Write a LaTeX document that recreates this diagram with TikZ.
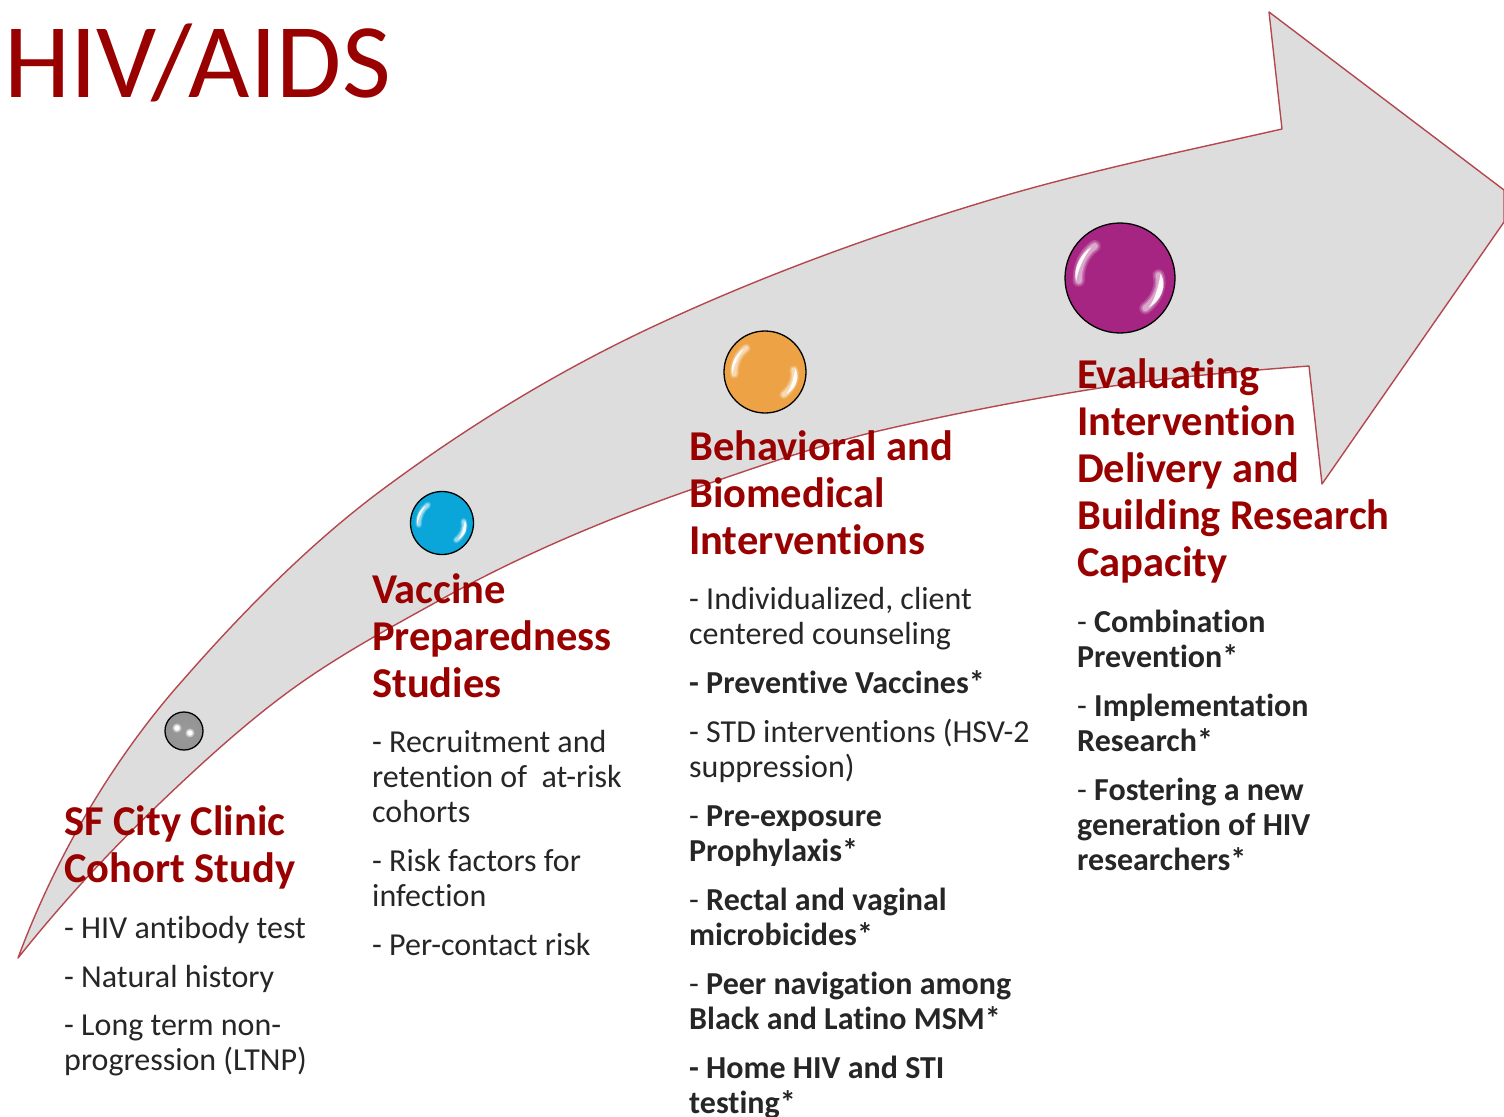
\documentclass[tikz,border=0pt]{standalone}
\usepackage{fontspec}
\setmainfont[Ligatures=NoCommon]{Carlito}
\definecolor{heading}{HTML}{990000}
\definecolor{bodytext}{HTML}{262626}
\definecolor{arrowfill}{HTML}{DDDDDD}
\definecolor{arrowline}{HTML}{B5474E}
\pgfdeclareradialshading{sphgrey}{\pgfpointorigin}{color(0bp)=(black!40); color(25bp)=(black!42); color(50bp)=(black!22)}
\pgfdeclareradialshading{sphblue}{\pgfpointorigin}{rgb(0bp)=(0.04,0.65,0.85); rgb(40bp)=(0.04,0.65,0.85); rgb(50bp)=(0.45,0.82,0.93)}
\pgfdeclareradialshading{sphorange}{\pgfpointorigin}{rgb(0bp)=(0.93,0.64,0.27); rgb(41bp)=(0.93,0.64,0.27); rgb(50bp)=(0.97,0.82,0.62)}
\pgfdeclareradialshading{sphmagenta}{\pgfpointorigin}{rgb(0bp)=(0.65,0.14,0.51); rgb(36bp)=(0.65,0.14,0.51); rgb(50bp)=(0.85,0.62,0.78)}
\tikzset{
  sphere/.style={circle,draw=black,line width=1.3pt,inner sep=0pt,minimum size=#1},
  headtext/.style={anchor=north west,inner sep=0pt,align=left,text=heading,font=\fontsize{42.5}{47}\selectfont\bfseries},
  bodyblock/.style={anchor=north west,inner sep=0pt,align=left,text=bodytext,font=\fontsize{32}{35}\selectfont},
}
\newcommand{\glint}[3]{%
  \begin{scope}[shift={(#1,#2)},x=#3pt,y=-#3pt,white,line cap=round]
    \foreach \w/\o in {.22/.18,.16/.25,.11/.35}{
      \draw[line width=#3*\w pt,opacity=\o] (.70,-.05) .. controls (.76,.12) and (.68,.38) .. (.46,.55);
      \draw[line width=#3*\w pt,opacity=\o] (-.46,-.58) .. controls (-.66,-.44) and (-.76,-.20) .. (-.75,.05);
    }
    \fill[opacity=.95] (.74,-.08) .. controls (.86,.14) and (.76,.40) .. (.52,.54) .. controls (.66,.36) and (.70,.12) .. cycle;
    \fill[opacity=.95] (-.52,-.56) .. controls (-.72,-.44) and (-.86,-.18) .. (-.80,.06) .. controls (-.76,-.16) and (-.66,-.38) .. cycle;
  \end{scope}}
\begin{document}
\begin{tikzpicture}[x=1pt,y=-1pt]
\useasboundingbox (0,0) rectangle (1504,1116);
\draw[fill=arrowfill,draw=arrowline,line width=1.4pt,line join=round]
  (18,958) .. controls (62,840) and (125,745) .. (183,680)
  .. controls (252,601) and (321,534) .. (390,484)
  .. controls (477,420) and (563,369) .. (650,328)
  .. controls (763,275) and (877,234) .. (990,200)
  .. controls (1087,171) and (1185,151) .. (1282,129)
  -- (1269,12) -- (1504,190) -- (1504,222) -- (1322,484) -- (1309,366)
  .. controls (1241,371) and (1174,377) .. (1106,387)
  .. controls (1029,399) and (951,414) .. (874,432)
  .. controls (813,447) and (751,469) .. (690,490)
  .. controls (607,519) and (523,554) .. (440,600)
  .. controls (395,625) and (350,649) .. (305,680)
  .. controls (257,713) and (208,757) .. (160,803)
  .. controls (113,848) and (65,899) .. cycle;
\node[sphere=38pt,shading=sphgrey] (s1) at (184,731) {};
\fill[white,opacity=.45] (177,728) circle (4.5pt) (190,733) circle (4.5pt);
\fill[white] (177,728) circle (2.8pt) (190,733) circle (2.8pt);
\node[sphere=63pt,shading=sphblue] (s2) at (442,523) {};
\glint{442}{523}{31}
\node[sphere=82pt,shading=sphorange] (s3) at (765,372) {};
\glint{765}{372}{41}
\node[sphere=110pt,shading=sphmagenta] (s4) at (1120,278) {};
\glint{1120}{278}{55}
\node[anchor=base west,inner sep=0pt,text=heading,font=\fontsize{106}{110}\selectfont] (title) at (4,97) {HIV/AIDS};
\node[headtext] (h1) at (64,805) {SF City Clinic\\Cohort Study};
\node[bodyblock] (b1) at (64,916) {- HIV antibody test\\[14pt]- Natural history\\[13.5pt]- Long term non-\\progression (LTNP)};
\node[headtext] (h2) at (372,573) {Vaccine\\Preparedness\\Studies};
\node[bodyblock] (b2) at (372,730.5) {- Recruitment and\\retention of\ \ at-risk\\cohorts\\[14pt]- Risk factors for\\infection\\[13.5pt]- Per-contact risk};
\node[headtext] (h3) at (689,430) {Behavioral and\\Biomedical\\Interventions};
\node[bodyblock] (b3) at (689,587.5) {- Individualized, client\\centered counseling\\[14pt]\textbf{- Preventive Vaccines*}\\[14pt]- STD interventions (HSV-2\\suppression)\\[14pt]- \textbf{Pre-exposure}\\\textbf{Prophylaxis*}\\[14pt]- \textbf{Rectal and vaginal}\\\textbf{microbicides*}\\[14pt]- \textbf{Peer navigation among}\\\textbf{Black and Latino MSM*}\\[14pt]\textbf{- Home HIV and STI}\\\textbf{testing*}};
\node[headtext] (h4) at (1077,358) {Evaluating\\Intervention\\Delivery and\\Building Research\\Capacity};
\node[bodyblock] (b4) at (1077,609.5) {- \textbf{Combination}\\\textbf{Prevention*}\\[14pt]- \textbf{Implementation}\\\textbf{Research*}\\[14pt]- \textbf{Fostering a new}\\\textbf{generation of HIV}\\\textbf{researchers*}};
\end{tikzpicture}
\end{document}
